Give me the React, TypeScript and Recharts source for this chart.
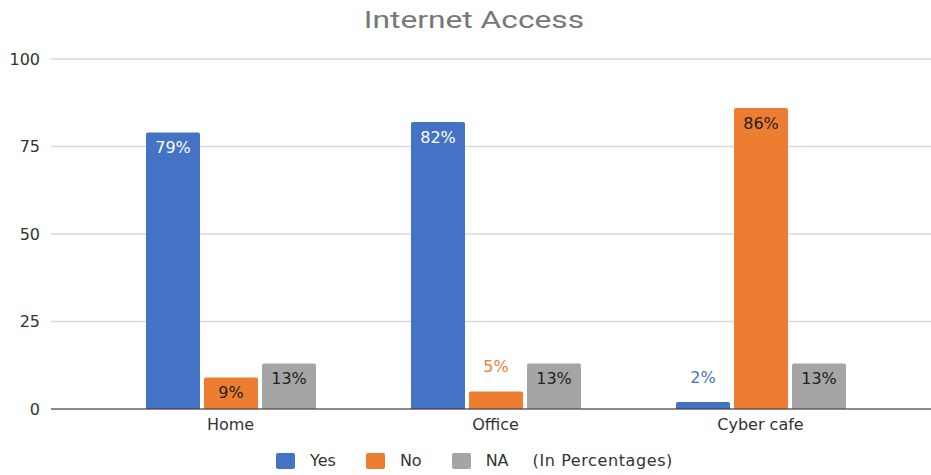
import React from "react";
import { BarChart, Bar, XAxis, YAxis, CartesianGrid, Legend, LabelList } from "recharts";

const categories = ["Home", "Office", "Cyber cafe"];
const yesValues = [79, 82, 2];
const noValues = [9, 5, 86];
const naValues = [13, 13, 13];
const yTicks = [0, 25, 50, 75, 100];
const seriesNames = ["Yes", "No", "NA"];
const legendNote = "(In Percentages)";
const chartTitle = "Internet Access";

const COLORS = ["#4472C4", "#ED7D31", "#A5A5A5"];
const INSIDE_TEXT = ["#ffffff", "#222222", "#222222"];
const FONT = "'DejaVu Sans', sans-serif";

const data = categories.map((name, i) => ({
  name,
  yes: yesValues[i],
  no: noValues[i],
  na: naValues[i],
}));

const makeLabel = (index: number) => (props: any) => {
  const { x, y, width, height, value } = props;
  const inside = height > 25;
  return (
    <text
      x={x + width / 2}
      y={inside ? y + 15 : y - 25}
      textAnchor="middle"
      dominantBaseline="central"
      fontFamily={FONT}
      fontSize={16}
      fill={inside ? INSIDE_TEXT[index] : COLORS[index]}
    >
      {value}%
    </text>
  );
};

const LegendContent = () => (
  <div
    style={{
      display: "flex",
      justifyContent: "center",
      alignItems: "center",
      fontFamily: FONT,
      fontSize: 16,
      color: "#333",
      paddingTop: 12,
      paddingLeft: 18,
    }}
  >
    {seriesNames.map((name, i) => (
      <div key={name} style={{ display: "flex", alignItems: "center", marginRight: 30 }}>
        <span
          style={{
            display: "inline-block",
            width: 19,
            height: 16,
            background: COLORS[i],
            borderRadius: 2,
            marginRight: 15,
          }}
        />
        <span>{name}</span>
      </div>
    ))}
    <span style={{ marginLeft: -6, letterSpacing: 0.6 }}>{legendNote}</span>
  </div>
);

export default function App() {
  const keys = ["yes", "no", "na"];
  return (
    <div style={{ position: "absolute", left: 0, top: 0, width: 931, height: 475, background: "#fff" }}>
      <div
        style={{
          position: "absolute",
          top: 9,
          left: 0,
          width: 948,
          textAlign: "center",
          fontFamily: "Roboto, sans-serif",
          fontSize: 23,
          lineHeight: "23px",
          color: "#777777",
          transform: "scaleX(1.38)",
        }}
      >
        {chartTitle}
      </div>
      <BarChart
        width={931}
        height={475}
        data={data}
        margin={{ top: 59, right: 0, left: 0, bottom: 6 }}
        barSize={54}
        barGap={4}
      >
        <CartesianGrid vertical={false} stroke="#d9d9d9" strokeWidth={1.5} />
        <XAxis
          dataKey="name"
          padding={{ left: 47, right: 38 }}
          tickLine={false}
          tickMargin={4}
          height={30}
          stroke="#333"
          tick={{ fill: "#333", fontFamily: FONT, fontSize: 16 }}
        />
        <YAxis
          domain={[0, 100]}
          ticks={yTicks}
          width={51}
          axisLine={false}
          tickLine={false}
          tickMargin={5}
          tick={{ fill: "#333", fontFamily: FONT, fontSize: 16 }}
        />
        <Legend verticalAlign="bottom" height={30} content={<LegendContent />} />
        {keys.map((k, i) => (
          <Bar
            key={k}
            dataKey={k}
            name={seriesNames[i]}
            fill={COLORS[i]}
            radius={[2, 2, 0, 0]}
            isAnimationActive={false}
          >
            <LabelList dataKey={k} content={makeLabel(i)} />
          </Bar>
        ))}
      </BarChart>
    </div>
  );
}
